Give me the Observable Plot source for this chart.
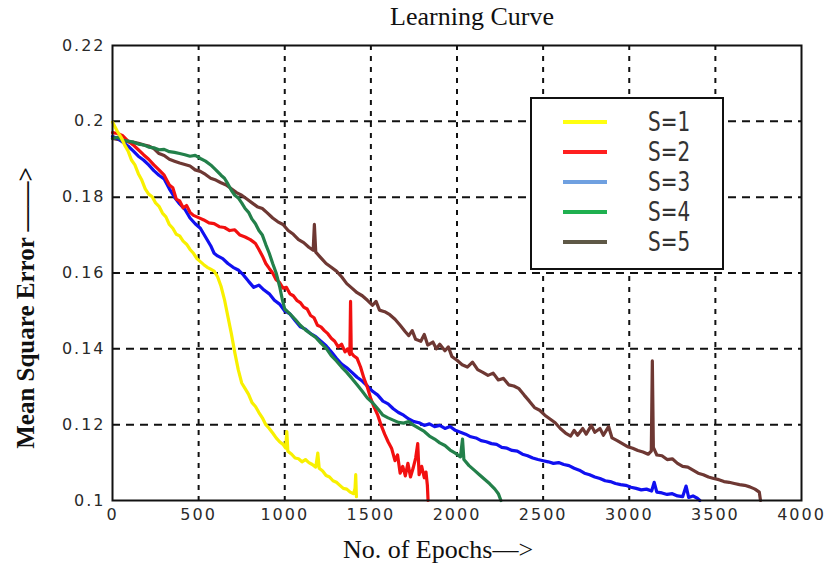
<!DOCTYPE html>
<html><head><meta charset="utf-8">
<script src="https://cdn.jsdelivr.net/npm/d3@7"></script>
<script src="https://cdn.jsdelivr.net/npm/@observablehq/plot@0.6"></script>
<style>
body{margin:0;background:#fff;}
#wrap{position:relative;width:828px;height:567px;}
#legend{position:absolute;left:530px;top:97px;width:190px;height:169px;border:2px solid #111;background:#fff;}
.sw{position:absolute;left:31px;width:44px;height:4px;}
.lab{position:absolute;left:116px;height:20px;line-height:20px;font-family:"DejaVu Sans";font-size:20px;color:#333;transform:scaleY(1.3);}
</style></head><body><div id="wrap"></div>
<script>
const xTicks = [0,500,1000,1500,2000,2500,3000,3500,4000];
const yTicks = [0.1,0.12,0.14,0.16,0.18,0.2,0.22];
const xGrid = [500,1000,1500,2000,2500,3000,3500];
const yGrid = [0.12,0.14,0.16,0.18,0.2];
const seriesNames = ["S=1","S=2","S=3","S=4","S=5"];
const lineColors = ["#f8f000","#f21010","#1010f0","#23804a","#6e3833"];
const legendColors = ["#ffff10","#ff2020","#6fa0e0","#20b050","#5e5846"];

// [epoch, mse]
const s1 = [[0,0.1998],[15,0.1985],[30,0.1972],[50,0.1958],[70,0.1938],[90,0.1922],[110,0.1898],[130,0.1885],[150,0.1862],[170,0.1845],[190,0.1822],[210,0.1808],[230,0.1801],[250,0.1785],[270,0.1776],[290,0.1758],[310,0.1748],[330,0.1728],[350,0.1718],[370,0.1702],[390,0.1698],[410,0.1684],[430,0.1676],[450,0.1662],[470,0.1652],[490,0.1638],[510,0.1630],[530,0.1622],[550,0.1615],[570,0.1610],[590,0.1605],[610,0.1590],[630,0.1565],[650,0.1530],[670,0.1485],[690,0.1440],[710,0.1390],[730,0.1345],[750,0.1310],[770,0.1295],[790,0.1280],[810,0.1258],[830,0.1248],[850,0.1232],[870,0.1218],[890,0.1200],[910,0.1190],[930,0.1178],[950,0.1165],[970,0.1155],[990,0.1148],[1005,0.1138],[1012,0.1182],[1018,0.1130],[1040,0.1122],[1060,0.1112],[1080,0.1110],[1100,0.1102],[1120,0.1108],[1140,0.1100],[1160,0.1095],[1180,0.1088],[1192,0.1125],[1200,0.1085],[1220,0.1078],[1240,0.1066],[1260,0.1062],[1280,0.1052],[1300,0.1048],[1320,0.1040],[1340,0.1032],[1360,0.1030],[1380,0.1022],[1400,0.1018],[1408,0.1032],[1412,0.1068],[1416,0.1010]];
const s2 = [[0,0.1970],[30,0.1968],[60,0.1962],[90,0.1948],[120,0.1938],[150,0.1925],[180,0.1912],[210,0.1900],[240,0.1885],[270,0.1872],[300,0.1858],[330,0.1832],[350,0.1825],[370,0.1795],[390,0.1790],[410,0.1772],[430,0.1778],[450,0.1760],[470,0.1752],[500,0.1746],[530,0.1740],[560,0.1732],[590,0.1730],[620,0.1722],[650,0.1720],[680,0.1712],[710,0.1714],[740,0.1700],[770,0.1695],[800,0.1688],[830,0.1678],[850,0.1662],[870,0.1645],[890,0.1625],[910,0.1612],[930,0.1600],[950,0.1582],[970,0.1575],[990,0.1560],[1010,0.1562],[1030,0.1545],[1050,0.1540],[1070,0.1528],[1090,0.1522],[1110,0.1510],[1130,0.1505],[1150,0.1488],[1170,0.1482],[1190,0.1462],[1210,0.1458],[1230,0.1448],[1250,0.1440],[1270,0.1428],[1290,0.1420],[1310,0.1405],[1330,0.1412],[1350,0.1392],[1365,0.1400],[1378,0.1385],[1382,0.1525],[1386,0.1390],[1400,0.1382],[1420,0.1375],[1440,0.1352],[1460,0.1322],[1480,0.1298],[1500,0.1268],[1520,0.1245],[1540,0.1225],[1560,0.1198],[1580,0.1175],[1600,0.1155],[1620,0.1138],[1640,0.1105],[1655,0.1120],[1670,0.1072],[1685,0.1090],[1700,0.1065],[1715,0.1098],[1730,0.1062],[1745,0.1085],[1760,0.1112],[1772,0.1150],[1780,0.1068],[1795,0.1090],[1810,0.1060],[1820,0.1075],[1828,0.1040],[1832,0.1000]];
const s3 = [[0,0.1960],[30,0.1955],[60,0.1945],[90,0.1935],[120,0.1922],[150,0.1908],[180,0.1898],[210,0.1885],[240,0.1870],[270,0.1858],[300,0.1848],[330,0.1822],[360,0.1800],[390,0.1782],[420,0.1768],[450,0.1745],[480,0.1730],[510,0.1718],[540,0.1695],[570,0.1672],[590,0.1652],[610,0.1645],[640,0.1638],[670,0.1625],[700,0.1615],[730,0.1608],[760,0.1595],[790,0.1578],[820,0.1562],[850,0.1568],[880,0.1555],[910,0.1545],[940,0.1528],[970,0.1518],[1000,0.1500],[1030,0.1492],[1060,0.1475],[1090,0.1458],[1120,0.1452],[1150,0.1440],[1180,0.1432],[1210,0.1420],[1240,0.1408],[1270,0.1392],[1300,0.1375],[1330,0.1360],[1360,0.1350],[1390,0.1338],[1420,0.1325],[1450,0.1315],[1480,0.1302],[1510,0.1288],[1540,0.1278],[1570,0.1262],[1600,0.1255],[1630,0.1242],[1660,0.1232],[1690,0.1225],[1720,0.1215],[1750,0.1208],[1780,0.1205],[1810,0.1198],[1840,0.1202],[1870,0.1195],[1900,0.1198],[1930,0.1190],[1960,0.1195],[1990,0.1185],[2020,0.1180],[2050,0.1175],[2080,0.1168],[2110,0.1165],[2140,0.1158],[2170,0.1155],[2200,0.1150],[2230,0.1148],[2260,0.1140],[2290,0.1138],[2320,0.1132],[2350,0.1130],[2380,0.1122],[2410,0.1118],[2440,0.1112],[2470,0.1108],[2500,0.1105],[2530,0.1102],[2560,0.1098],[2590,0.1100],[2620,0.1095],[2650,0.1092],[2680,0.1085],[2710,0.1080],[2740,0.1072],[2770,0.1068],[2800,0.1062],[2830,0.1058],[2860,0.1052],[2890,0.1050],[2920,0.1045],[2950,0.1042],[2980,0.1040],[3010,0.1035],[3040,0.1032],[3070,0.1028],[3100,0.1030],[3130,0.1025],[3145,0.1048],[3160,0.1022],[3190,0.1020],[3220,0.1016],[3250,0.1018],[3280,0.1012],[3310,0.1010],[3330,0.1038],[3345,0.1008],[3370,0.1012],[3395,0.1006],[3410,0.1000]];
const s4 = [[0,0.1955],[30,0.1958],[60,0.1950],[90,0.1948],[120,0.1945],[150,0.1940],[180,0.1938],[210,0.1932],[240,0.1930],[270,0.1925],[300,0.1926],[330,0.1920],[360,0.1918],[390,0.1915],[420,0.1912],[450,0.1908],[480,0.1910],[510,0.1902],[540,0.1895],[570,0.1885],[600,0.1872],[630,0.1858],[650,0.1850],[670,0.1835],[690,0.1818],[710,0.1805],[730,0.1798],[750,0.1785],[770,0.1770],[790,0.1760],[810,0.1742],[830,0.1730],[850,0.1712],[870,0.1700],[890,0.1675],[910,0.1652],[930,0.1625],[950,0.1600],[970,0.1565],[985,0.1532],[1000,0.1505],[1030,0.1492],[1060,0.1478],[1090,0.1462],[1120,0.1450],[1150,0.1440],[1180,0.1430],[1210,0.1415],[1240,0.1402],[1270,0.1382],[1300,0.1368],[1330,0.1352],[1360,0.1338],[1390,0.1322],[1420,0.1305],[1450,0.1288],[1480,0.1270],[1510,0.1258],[1540,0.1242],[1570,0.1225],[1600,0.1218],[1630,0.1212],[1660,0.1206],[1690,0.1204],[1720,0.1208],[1750,0.1198],[1780,0.1190],[1810,0.1182],[1840,0.1170],[1870,0.1162],[1900,0.1152],[1930,0.1145],[1960,0.1133],[1990,0.1125],[2020,0.1115],[2032,0.1162],[2040,0.1108],[2070,0.1092],[2100,0.1080],[2130,0.1068],[2160,0.1056],[2190,0.1044],[2220,0.1030],[2240,0.1018],[2255,0.1000]];
const s5 = [[0,0.1955],[30,0.1952],[60,0.1950],[90,0.1946],[120,0.1945],[150,0.1942],[180,0.1938],[210,0.1935],[240,0.1928],[270,0.1915],[300,0.1910],[330,0.1900],[360,0.1895],[390,0.1890],[420,0.1886],[450,0.1882],[480,0.1872],[510,0.1868],[540,0.1860],[570,0.1850],[600,0.1845],[630,0.1838],[660,0.1832],[690,0.1822],[720,0.1812],[750,0.1805],[780,0.1795],[810,0.1785],[840,0.1775],[870,0.1770],[900,0.1758],[930,0.1745],[960,0.1735],[990,0.1728],[1020,0.1712],[1050,0.1702],[1080,0.1688],[1110,0.1680],[1140,0.1668],[1165,0.1660],[1172,0.1728],[1180,0.1655],[1210,0.1640],[1240,0.1625],[1270,0.1615],[1300,0.1605],[1330,0.1590],[1360,0.1572],[1390,0.1560],[1420,0.1548],[1450,0.1540],[1480,0.1528],[1510,0.1515],[1530,0.1525],[1550,0.1502],[1580,0.1498],[1610,0.1490],[1640,0.1478],[1670,0.1462],[1700,0.1445],[1720,0.1435],[1740,0.1448],[1760,0.1425],[1790,0.1420],[1810,0.1438],[1830,0.1410],[1860,0.1418],[1880,0.1400],[1900,0.1412],[1930,0.1395],[1950,0.1405],[1970,0.1380],[2000,0.1370],[2030,0.1358],[2060,0.1352],[2090,0.1365],[2120,0.1345],[2150,0.1338],[2180,0.1330],[2210,0.1336],[2240,0.1318],[2270,0.1322],[2300,0.1305],[2330,0.1302],[2360,0.1295],[2390,0.1278],[2420,0.1262],[2450,0.1245],[2480,0.1238],[2510,0.1225],[2540,0.1215],[2570,0.1205],[2600,0.1190],[2630,0.1178],[2660,0.1170],[2680,0.1185],[2700,0.1172],[2730,0.1190],[2750,0.1175],[2780,0.1198],[2800,0.1180],[2830,0.1190],[2850,0.1172],[2880,0.1195],[2900,0.1165],[2930,0.1158],[2960,0.1150],[2990,0.1142],[3020,0.1138],[3050,0.1132],[3080,0.1128],[3110,0.1122],[3128,0.1130],[3134,0.1368],[3140,0.1140],[3160,0.1120],[3190,0.1118],[3220,0.1108],[3250,0.1110],[3280,0.1098],[3310,0.1090],[3340,0.1088],[3370,0.1080],[3400,0.1072],[3430,0.1068],[3460,0.1062],[3490,0.1058],[3520,0.1055],[3550,0.1050],[3580,0.1048],[3610,0.1045],[3640,0.1042],[3670,0.1040],[3700,0.1036],[3730,0.1030],[3755,0.1022],[3762,0.1000]];

const series = [s1,s2,s3,s4,s5];
const drawOrder = [4,2,1,3,0];

const lineMarks = drawOrder.map(i => Plot.line(series[i], {
  x: d => d[0], y: d => d[1], stroke: lineColors[i], strokeWidth: 3.2, strokeLinejoin: "round"
}));

const chart = Plot.plot({
  width: 828, height: 567,
  marginLeft: 112, marginRight: 27, marginTop: 45, marginBottom: 67,
  style: {background: "white", fontFamily: "DejaVu Sans", fontSize: "16px"},
  x: {domain: [0, 4000]},
  y: {domain: [0.1, 0.22]},
  marks: [
    Plot.ruleX(xGrid, {stroke: "#111", strokeWidth: 2, strokeDasharray: "5,6"}),
    Plot.ruleY(yGrid, {stroke: "#111", strokeWidth: 2, strokeDasharray: "8,6"}),
    Plot.axisX(xTicks, {tickSize: 0, tickPadding: 8, tickFormat: d => String(d), label: null, color: "#2a2a2a"}),
    Plot.axisY(yTicks, {tickSize: 0, tickPadding: 7, tickFormat: d => String(+d.toFixed(2)), label: null, color: "#2a2a2a"}),
    ...lineMarks,
    Plot.frame({stroke: "#111", strokeWidth: 2}),
    Plot.text(["Learning Curve"], {text: d => d, frameAnchor: "top", lineAnchor: "bottom", textAnchor: "middle", dx: 15, dy: -21,
      fontFamily: "Liberation Serif", fontSize: 26, fill: "#111"}),
    Plot.text(["No. of Epochs\u2014>"], {text: d => d, frameAnchor: "bottom", lineAnchor: "bottom", textAnchor: "middle", dx: -19, dy: 57,
      fontFamily: "Liberation Serif", fontSize: 26, fill: "#111"}),
    Plot.text(["Mean Square Error \u2014\u2014>"], {text: d => d, frameAnchor: "left", lineAnchor: "bottom", textAnchor: "middle", rotate: -90, dx: -79, dy: 35,
      fontFamily: "Liberation Serif", fontSize: 25, fontWeight: "bold", fill: "#111"})
  ]
});

d3.select(chart).selectAll('g[aria-label="x-axis tick label"] text, g[aria-label="y-axis tick label"] text')
  .attr("letter-spacing", "2");

const wrap = document.getElementById("wrap");
wrap.appendChild(chart);

const legend = document.createElement("div");
legend.id = "legend";
seriesNames.forEach((name, i) => {
  const center = 23 + 30 * i;
  const sw = document.createElement("div");
  sw.className = "sw";
  sw.style.top = (center - 2) + "px";
  sw.style.background = legendColors[i];
  legend.appendChild(sw);
  const lab = document.createElement("div");
  lab.className = "lab";
  lab.style.top = (center - 10) + "px";
  lab.textContent = name;
  legend.appendChild(lab);
});
wrap.appendChild(legend);
</script>
</body></html>
